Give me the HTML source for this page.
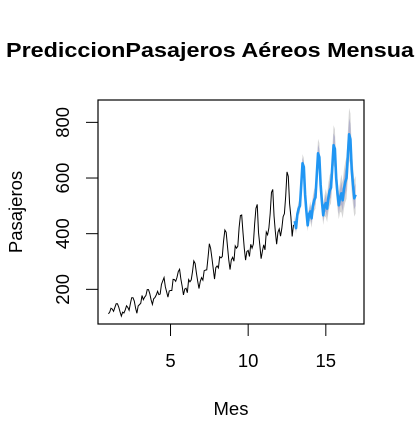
<!DOCTYPE html>
<html><head><meta charset="utf-8"><style>
body{margin:0;background:#fff;width:415px;height:447px;overflow:hidden}
svg{display:block;font-family:"Liberation Sans",Arial,sans-serif}
</style></head><body>
<svg id="chart" width="415" height="447">
<text transform="translate(6,57) scale(1.14,1)" x="0" y="0" font-size="20.5" font-weight="bold">PrediccionPasajeros Aéreos Mensuales</text>
<text x="231" y="415" font-size="18.5" text-anchor="middle">Mes</text>
<text transform="translate(22,212) rotate(-90)" font-size="18.5" text-anchor="middle">Pasajeros</text>
<g id="bands"></g><g id="lines"></g><g id="axes"></g>
<rect x="98" y="100" width="266" height="224" fill="none" stroke="#000" stroke-width="1.2"/>
</svg>
<script>
const history = [112,118,132,129,121,135,148,148,136,119,104,118,115,126,141,135,125,149,170,170,158,133,114,140,145,150,178,163,172,178,199,199,184,162,146,166,171,180,193,181,183,218,230,242,209,191,172,194,196,196,236,235,229,243,264,272,237,211,180,201,204,188,235,227,234,264,302,293,259,229,203,229,242,233,267,269,270,315,364,347,312,274,237,278,284,277,317,313,318,374,413,405,355,306,271,306,315,301,356,348,355,422,465,467,404,347,305,336,340,318,362,348,363,435,491,505,404,359,310,337,360,342,406,396,420,472,548,559,463,407,362,405,417,391,419,461,472,535,622,606,508,461,390,432];
const forecast = [445,420,470,490,500,575,653,640,540,480,430,470,480,455,500,520,530,610,689,675,575,515,466,500,510,490,530,555,565,640,718,705,600,545,502,530,545,520,560,585,600,680,757,740,630,575,527,540];
const spread80 = [0.03,0.045,0.06,0.075];
const spread95 = [0.05,0.075,0.1,0.125];
const xTicks = [5,10,15];
const yTicks = [200,400,600,800];
const ns="http://www.w3.org/2000/svg";
const sx=t=>108.4+(t-1)*15.53;
const sy=v=>345-v*0.2783;
const tH=i=>1+i/12, tF=i=>13+i/12;
function mk(tag,attrs,parent){const e=document.createElementNS(ns,tag);for(const k in attrs)e.setAttribute(k,attrs[k]);document.getElementById(parent).appendChild(e);return e;}
function band(sp,fill,name){
  const up=forecast.map((v,i)=>sx(tF(i))+','+sy(v*(1+sp[Math.floor(i/12)])));
  const lo=forecast.map((v,i)=>sx(tF(i))+','+sy(v*(1-sp[Math.floor(i/12)]))).reverse();
  const p=mk('polygon',{points:up.concat(lo).join(' '),fill:fill},'bands');
  
  
}
band(spread95,'#d6d6d6','band-95');
band(spread80,'#b3b3cc','band-80');
const h=mk('polyline',{points:history.map((v,i)=>sx(tH(i))+','+sy(v)).join(' '),fill:'none',stroke:'#000','stroke-width':1},'lines');


const f=mk('polyline',{points:forecast.map((v,i)=>sx(tF(i))+','+sy(v)).join(' '),fill:'none',stroke:'#2196f3','stroke-width':2.6,'stroke-linejoin':'round'},'lines');


xTicks.forEach(t=>{
  const l=mk('line',{x1:sx(t),x2:sx(t),y1:324,y2:336,stroke:'#000'},'axes');
  
  
  const tx=mk('text',{x:sx(t),y:367,'font-size':18.5,'text-anchor':'middle'},'axes');
  tx.textContent=t;
  
  
});
yTicks.forEach(v=>{
  const l=mk('line',{x1:86,x2:98,y1:sy(v),y2:sy(v),stroke:'#000'},'axes');
  
  
  const tx=mk('text',{transform:`translate(69,${sy(v)}) rotate(-90)`,'font-size':18.5,'text-anchor':'middle'},'axes');
  tx.textContent=v;
  
  
});
</script>
</body></html>
